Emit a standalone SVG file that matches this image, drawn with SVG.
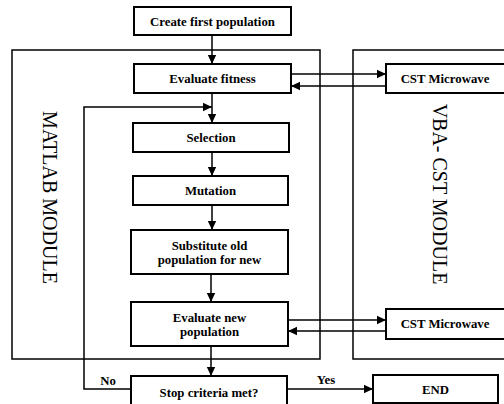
<svg xmlns="http://www.w3.org/2000/svg" width="504" height="404" viewBox="0 0 504 404">
<style>
.bx{fill:#fff;stroke:#000;stroke-width:2}
.mod{fill:none;stroke:#000;stroke-width:1.5}
.ln{fill:none;stroke:#000;stroke-width:1.5}
.t{font-family:"Liberation Serif","Times New Roman",serif;font-weight:bold;font-size:12.8px;text-anchor:middle;fill:#000}
.m{font-family:"Liberation Serif","Times New Roman",serif;font-size:20px;text-anchor:middle;fill:#000}
</style>
<defs>
<marker id="ah" markerUnits="userSpaceOnUse" markerWidth="10" markerHeight="10" refX="9" refY="5" orient="auto">
<path d="M0,0.8 L9,5 L0,9.2 Z" fill="#000"/>
</marker>
</defs>
<rect width="504" height="404" fill="#fff"/>
<g id="matlab-module">
<rect class="mod" x="12" y="50" width="308" height="309"/>
<text class="m" transform="translate(43,197.5) rotate(90)">MATLAB MODULE</text>
</g>
<g id="vba-module">
<rect class="mod" x="353" y="50" width="160" height="309"/>
<text class="m" transform="translate(433,194) rotate(90)">VBA- CST MODULE</text>
</g>
<g id="connectors">
<line class="ln" x1="212" y1="35" x2="212" y2="64" marker-end="url(#ah)"/>
<line class="ln" x1="291" y1="74" x2="386" y2="74" marker-end="url(#ah)"/>
<line class="ln" x1="386" y1="86" x2="291" y2="86" marker-end="url(#ah)"/>
<line class="ln" x1="212" y1="93" x2="212" y2="123" marker-end="url(#ah)"/>
<polyline class="ln" points="131,389 84,389 84,107 212,107" marker-end="url(#ah)"/>
<line class="ln" x1="212" y1="152" x2="212" y2="176" marker-end="url(#ah)"/>
<line class="ln" x1="212" y1="205" x2="212" y2="230" marker-end="url(#ah)"/>
<line class="ln" x1="211" y1="274" x2="211" y2="302" marker-end="url(#ah)"/>
<line class="ln" x1="288" y1="320" x2="386" y2="320" marker-end="url(#ah)"/>
<line class="ln" x1="386" y1="331" x2="288" y2="331" marker-end="url(#ah)"/>
<line class="ln" x1="211" y1="346" x2="211" y2="376" marker-end="url(#ah)"/>
<line class="ln" x1="287" y1="389" x2="373" y2="389" marker-end="url(#ah)"/>
<text class="t" x="108" y="385">No</text>
<text class="t" x="326" y="384">Yes</text>
</g>
<g id="create">
<rect class="bx" x="134" y="7" width="157" height="28"/>
<text class="t" x="212.5" y="26">Create first population</text>
</g>
<g id="evaluate-fitness">
<rect class="bx" x="134" y="64" width="157" height="29"/>
<text class="t" x="212.5" y="83">Evaluate fitness</text>
</g>
<g id="cst1">
<rect class="bx" x="386" y="64" width="122" height="29"/>
<text class="t" x="445" y="83">CST Microwave</text>
</g>
<g id="selection">
<rect class="bx" x="133" y="123" width="156" height="29"/>
<text class="t" x="211" y="142">Selection</text>
</g>
<g id="mutation">
<rect class="bx" x="133" y="176" width="155" height="29"/>
<text class="t" x="210.5" y="195">Mutation</text>
</g>
<g id="substitute">
<rect class="bx" x="131" y="230" width="157" height="44"/>
<text class="t" x="209.5" y="250">Substitute old</text>
<text class="t" x="209.5" y="264">population for new</text>
</g>
<g id="evaluate-new">
<rect class="bx" x="131" y="302" width="157" height="44"/>
<text class="t" x="209.5" y="322">Evaluate new</text>
<text class="t" x="209.5" y="336">population</text>
</g>
<g id="cst2">
<rect class="bx" x="386" y="309" width="122" height="30"/>
<text class="t" x="445" y="328">CST Microwave</text>
</g>
<g id="stop">
<rect class="bx" x="131" y="376" width="156" height="34"/>
<text class="t" x="209" y="397">Stop criteria met?</text>
</g>
<g id="end">
<rect class="bx" x="373" y="375" width="125" height="28"/>
<text class="t" x="435.5" y="394">END</text>
</g>
</svg>
